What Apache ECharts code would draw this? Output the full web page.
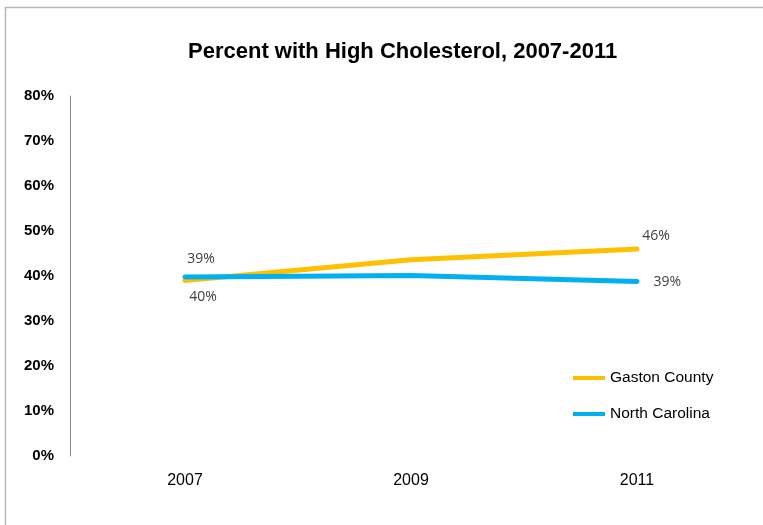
<!DOCTYPE html>
<html>
<head>
<meta charset="utf-8">
<script src="https://cdn.jsdelivr.net/npm/echarts@6/dist/echarts.min.js"></script>
<style>
  html, body { margin: 0; padding: 0; background: #ffffff; }
  #chart { width: 763px; height: 525px; }
</style>
</head>
<body>
<div id="chart"></div>
<script>
// Survey years on the horizontal axis
const years = ['2007', '2009', '2011'];
// Share of adults with high cholesterol, percent
const gastonCounty = [39, 43.6, 46];
const northCarolina = [39.8, 40.1, 38.8];
// Value axis ticks, percent
const yTicks = [0, 10, 20, 30, 40, 50, 60, 70, 80];

const labelFont = {
  fontFamily: '"Open Sans", "DejaVu Sans", sans-serif',
  fontSize: 14,
  color: '#404040'
};

// Only the first and last points carry a value label
function withLabels(values, placements) {
  return values.map((v, i) => {
    const p = placements[i];
    if (!p) return { value: v, label: { show: false } };
    return {
      value: v,
      label: Object.assign({
        show: true,
        position: p.position,
        distance: 5,
        offset: p.offset,
        formatter: Math.round(v) + '%'
      }, labelFont)
    };
  });
}

const chart = echarts.init(document.getElementById('chart'));
chart.setOption({
  backgroundColor: '#ffffff',
  animation: false,
  title: {
    text: 'Percent with High Cholesterol, 2007-2011',
    left: 183,
    top: 36,
    textStyle: {
      fontFamily: '"Liberation Sans", Arial, sans-serif',
      fontWeight: 'bold',
      fontSize: 22,
      color: '#000000'
    }
  },
  legend: {
    orient: 'vertical',
    left: 568,
    top: 365,
    itemGap: 20,
    itemWidth: 32,
    itemHeight: 4,
    icon: 'rect',
    textStyle: {
      fontFamily: '"Liberation Sans", Arial, sans-serif',
      fontSize: 15.5,
      lineHeight: 16,
      color: '#000000'
    },
    data: ['Gaston County', 'North Carolina']
  },
  grid: {
    left: 72,
    top: 96,
    width: 678,
    height: 360
  },
  xAxis: {
    type: 'category',
    data: years,
    boundaryGap: true,
    axisLine: { show: false },
    axisTick: { show: false },
    axisLabel: {
      margin: 17,
      fontFamily: '"Liberation Sans", Arial, sans-serif',
      fontSize: 16,
      color: '#000000'
    }
  },
  yAxis: {
    type: 'value',
    min: yTicks[0],
    max: yTicks[yTicks.length - 1],
    interval: yTicks[1] - yTicks[0],
    offset: 2,
    axisLine: { show: true, lineStyle: { color: '#8c8c8c', width: 1 } },
    axisTick: { show: false },
    splitLine: { show: false },
    axisLabel: {
      margin: 16,
      formatter: '{value}%',
      fontFamily: '"Liberation Sans", Arial, sans-serif',
      fontWeight: 'bold',
      fontSize: 15,
      color: '#000000'
    }
  },
  series: [
    {
      name: 'Gaston County',
      type: 'line',
      data: withLabels(gastonCounty, [
        { position: 'top', offset: [16, -9] },
        null,
        { position: 'top', offset: [19, 0] }
      ]),
      symbol: 'circle',
      symbolSize: 1,
      showSymbol: true,
      lineStyle: { color: '#FFC000', width: 5, cap: 'round' },
      itemStyle: { color: '#FFC000' },
      z: 2
    },
    {
      name: 'North Carolina',
      type: 'line',
      data: withLabels(northCarolina, [
        { position: 'bottom', offset: [18, 8] },
        null,
        { position: 'right', offset: [11, 1] }
      ]),
      symbol: 'circle',
      symbolSize: 1,
      showSymbol: true,
      lineStyle: { color: '#00B0F0', width: 5, cap: 'round' },
      itemStyle: { color: '#00B0F0' },
      z: 3
    }
  ],
  graphic: [
    {
      type: 'rect',
      shape: { x: 5.5, y: 7.5, width: 800, height: 600 },
      style: { fill: 'none', stroke: '#b8b8b8', lineWidth: 1.5 },
      silent: true,
      z: 0
    }
  ]
});
</script>
</body>
</html>
